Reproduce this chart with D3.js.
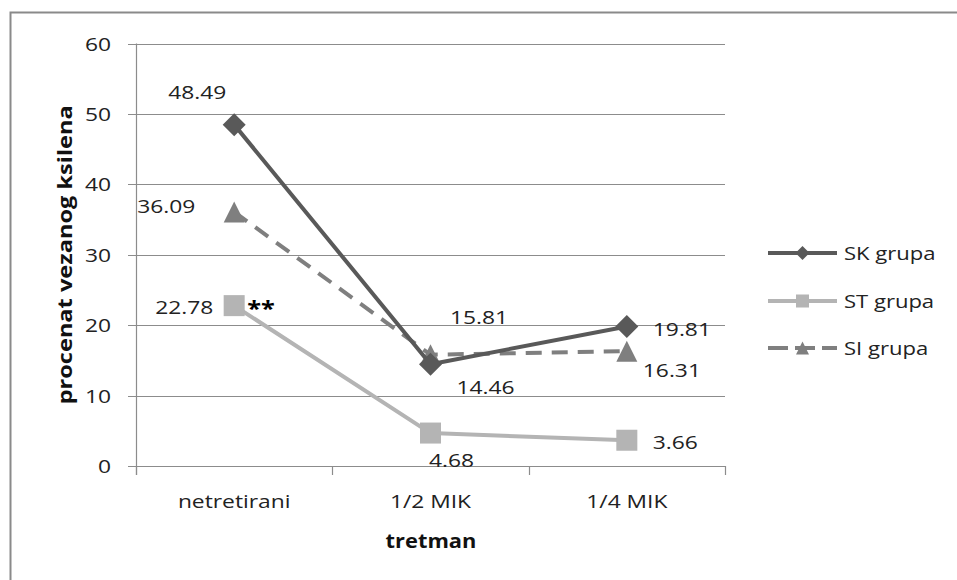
<!DOCTYPE html>
<html>
<head>
<meta charset="utf-8">
<script src="https://cdn.jsdelivr.net/npm/d3@7"></script>
<style>
  html, body { margin: 0; padding: 0; background: #fff; }
  svg { display: block; }
  text { font-family: "Open Sans", "Noto Sans", sans-serif; }
</style>
</head>
<body>
<svg id="chart" width="957" height="580"></svg>
<script>
// Treatments on the x axis
const categories = ["netretirani", "1/2 MIK", "1/4 MIK"];
// Percentage of bound xylene per group
const seriesNames = ["SK grupa", "ST grupa", "SI grupa"];
const skValues = [48.49, 14.46, 19.81];
const stValues = [22.78, 4.68, 3.66];
const siValues = [36.09, 15.81, 16.31];
const yTicks = [0, 10, 20, 30, 40, 50, 60];
const yTitle = "procenat vezanog ksilena";
const xTitle = "tretman";
const significance = "**";

// Label offsets (left edge / baseline relative to each point)
const labelOffsets = {
  "SK grupa": [[-66, -26], [26, 30], [26, 9.5]],
  "ST grupa": [[-79, 8.5], [-1.5, 34], [26, 9]],
  "SI grupa": [[-97, 1], [19.5, -31], [16, 26]]
};

const styles = {
  "SK grupa": { color: "#595959", dash: null, marker: "diamond" },
  "ST grupa": { color: "#b4b4b4", dash: null, marker: "square" },
  "SI grupa": { color: "#7f7f7f", dash: "16,10", marker: "triangle" }
};

const series = [
  { name: "SK grupa", values: skValues },
  { name: "ST grupa", values: stValues },
  { name: "SI grupa", values: siValues }
];

const svg = d3.select("#chart");
const SX = 1.2;           // horizontal stretch used for all text
const FS = 19;
const textColor = "#222";
const gridColor = "#8c8c8c";

// Chart frame (extends past the right and bottom edges)
svg.append("rect")
  .attr("x", 10.5).attr("y", 12.5)
  .attr("width", 1000).attr("height", 1000)
  .attr("fill", "none").attr("stroke", "#8a8a8a").attr("stroke-width", 2);

const plot = { left: 136, right: 725, top: 43.6, bottom: 466 };

const x = d3.scalePoint().domain(categories).range([plot.left, plot.right]).padding(0.5);
const y = d3.scaleLinear().domain([0, 60]).range([plot.bottom, plot.top]);

// helper: stretched text placed with its anchor at (px, py)
function stretchedText(parent, str, px, py, opts = {}) {
  const g = parent.append("g")
    .attr("transform", `translate(${px},${py})` + (opts.rotate ? ` rotate(${opts.rotate})` : "") + ` scale(${opts.sx || SX},1)`);
  const t = g.append("text")
    .attr("x", 0).attr("y", 0)
    .attr("text-anchor", opts.anchor || "start")
    .attr("font-size", opts.size || FS)
    .attr("font-weight", opts.weight || "normal")
    .attr("fill", opts.fill || textColor)
    .text(str);
  return t;
}

// Horizontal gridlines
const grid = svg.append("g");
grid.selectAll("line.grid")
  .data(yTicks.filter(d => d > 0))
  .join("line")
  .attr("x1", plot.left - 8).attr("x2", plot.right)
  .attr("y1", d => Math.round(y(d)) + 0.5).attr("y2", d => Math.round(y(d)) + 0.5)
  .attr("stroke", gridColor).attr("stroke-width", 1.2);

// Y axis line
grid.append("line")
  .attr("x1", plot.left + 0.5).attr("x2", plot.left + 0.5)
  .attr("y1", plot.top).attr("y2", plot.bottom + 9)
  .attr("stroke", gridColor).attr("stroke-width", 1.2);

// X axis line with category dividers
grid.append("line")
  .attr("x1", plot.left - 8).attr("x2", plot.right)
  .attr("y1", plot.bottom + 0.5).attr("y2", plot.bottom + 0.5)
  .attr("stroke", gridColor).attr("stroke-width", 1.2);
const step = x.step();
const dividers = d3.range(categories.length + 1).map(i => plot.left + i * step);
grid.selectAll("line.div")
  .data(dividers)
  .join("line")
  .attr("x1", d => Math.round(d) + 0.5).attr("x2", d => Math.round(d) + 0.5)
  .attr("y1", plot.bottom).attr("y2", plot.bottom + 9)
  .attr("stroke", gridColor).attr("stroke-width", 1.2);

// Y tick labels
yTicks.forEach(v => {
  stretchedText(svg, String(v), 111, y(v) + 7, { anchor: "end" });
});

// Category labels
categories.forEach(c => {
  stretchedText(svg, c, x(c), 508, { anchor: "middle" });
});

// Axis titles
stretchedText(svg, xTitle, 431, 548, { anchor: "middle", weight: "bold", size: 19, sx: 1.15, fill: "#111" });
stretchedText(svg, yTitle, 72, (plot.top + plot.bottom) / 2, { anchor: "middle", weight: "bold", size: 19, rotate: -90, sx: 1.24, fill: "#111" });

// Marker shapes
function drawMarker(g, type, cx, cy, size, color) {
  const h = size / 2;
  if (type === "diamond") {
    g.append("path").attr("d", `M${cx},${cy - h}L${cx + h},${cy}L${cx},${cy + h}L${cx - h},${cy}Z`).attr("fill", color);
  } else if (type === "square") {
    g.append("rect").attr("x", cx - h).attr("y", cy - h).attr("width", size).attr("height", size).attr("fill", color);
  } else {
    g.append("path").attr("d", `M${cx},${cy - h}L${cx + h},${cy + h}L${cx - h},${cy + h}Z`).attr("fill", color);
  }
}

const line = d3.line().x((d, i) => x(categories[i])).y(d => y(d));

// Draw order: SI, ST, SK on top
const drawOrder = ["SI grupa", "ST grupa", "SK grupa"];
drawOrder.forEach(name => {
  const s = series.find(d => d.name === name);
  const st = styles[name];
  const g = svg.append("g");
  g.append("path")
    .attr("d", line(s.values))
    .attr("fill", "none")
    .attr("stroke", st.color)
    .attr("stroke-width", 4)
    .attr("stroke-dasharray", st.dash)
    .attr("stroke-linejoin", "round");
  s.values.forEach((v, i) => {
    drawMarker(g, st.marker, x(categories[i]), y(v), st.marker === "diamond" ? 23 : 21, st.color);
  });
});

// Data labels
series.forEach(s => {
  s.values.forEach((v, i) => {
    const [dx, dy] = labelOffsets[s.name][i];
    stretchedText(svg, v.toFixed(2), x(categories[i]) + dx, y(v) + dy);
  });
});

// Significance mark next to the ST control point
stretchedText(svg, significance, x(categories[0]) + 13, y(stValues[0]) + 10, { weight: "bold", size: 22, sx: 1.15, fill: "#000" });

// Legend
const legendRows = [253, 301, 348];
series.forEach((s, i) => {
  const st = styles[s.name];
  const ly = legendRows[i];
  const g = svg.append("g");
  g.append("line")
    .attr("x1", 768).attr("x2", 837)
    .attr("y1", ly).attr("y2", ly)
    .attr("stroke", st.color).attr("stroke-width", 4)
    .attr("stroke-dasharray", st.dash ? "20,7" : null);
  drawMarker(g, st.marker, 802.5, ly, st.marker === "diamond" ? 14 : 13, st.color);
  stretchedText(svg, s.name, 844, ly + 7, { sx: 1.16 });
});
</script>
</body>
</html>
